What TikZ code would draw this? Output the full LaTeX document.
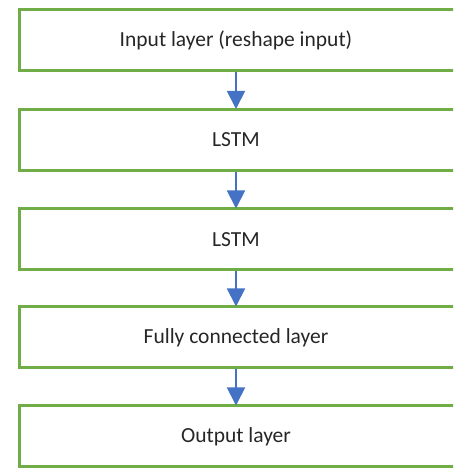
\documentclass[tikz,border=0pt]{standalone}
\usepackage{fontspec}
\setmainfont{Carlito}
\usetikzlibrary{arrows.meta}
\definecolor{boxgreen}{RGB}{112,173,71}
\definecolor{arrowblue}{RGB}{68,114,196}
\begin{document}
\begin{tikzpicture}[x=1pt,y=1pt,
  layerbox/.style={draw=boxgreen, line width=3pt, minimum width=450pt, minimum height=61pt, inner sep=0pt},
  layertext/.style={font=\fontsize{21.5}{24}\selectfont, text=black!85, inner sep=0pt},
  flow/.style={draw=arrowblue, line width=1.8pt, -{Triangle[width=18pt,length=18pt]}, shorten >=-1pt}]
\useasboundingbox (0,0) rectangle (453,468);
\clip (0,0) rectangle (453,468);
\node[layerbox] (b1) at (244.5,428) {};
\node[layerbox] (b2) at (244.5,328) {};
\node[layerbox] (b3) at (244.5,228.5) {};
\node[layerbox] (b4) at (244.5,130.5) {};
\node[layerbox] (b5) at (244.5,31.5) {};
\node[layertext] (t1) at (236,428) {Input layer (reshape input)};
\node[layertext] (t2) at (236,328) {LSTM};
\node[layertext] (t3) at (236,228.5) {LSTM};
\node[layertext] (t4) at (236,130.5) {Fully connected layer};
\node[layertext] (t5) at (236,31.5) {Output layer};
\draw[flow] (t1 |- b1.south) -- (t1 |- b2.north);
\draw[flow] (t1 |- b2.south) -- (t1 |- b3.north);
\draw[flow] (t1 |- b3.south) -- (t1 |- b4.north);
\draw[flow] (t1 |- b4.south) -- (t1 |- b5.north);
\end{tikzpicture}
\end{document}
